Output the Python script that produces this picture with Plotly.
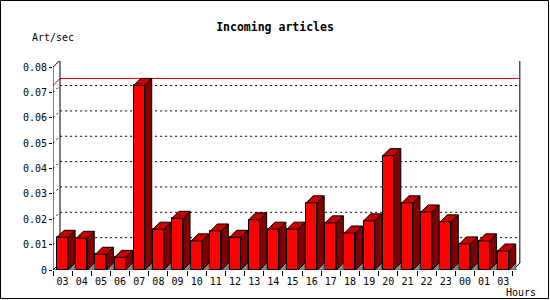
import plotly.graph_objects as go

# ---- data ----
hours = ["03", "04", "05", "06", "07", "08", "09", "10", "11", "12", "13", "14",
         "15", "16", "17", "18", "19", "20", "21", "22", "23", "00", "01", "03"]
rates = [0.0129, 0.0125, 0.0062, 0.0050, 0.0728, 0.0161, 0.0204, 0.0115,
         0.0154, 0.0129, 0.0198, 0.0161, 0.0161, 0.0265, 0.0186, 0.0146,
         0.0194, 0.0451, 0.0265, 0.0229, 0.0190, 0.0103, 0.0115, 0.0075]
y_ticks = [0, 0.01, 0.02, 0.03, 0.04, 0.05, 0.06, 0.07, 0.08]
y_tick_text = ["0", "0.01", "0.02", "0.03", "0.04", "0.05", "0.06", "0.07", "0.08"]

# ---- geometry (pixels -> axis units) ----
WIDTH, HEIGHT = 550, 300
ML, MR, MT, MB = 53, 29, 61, 30
PW, PH = WIDTH - ML - MR, HEIGHT - MT - MB
PX = 19.16          # px per category
PY = 2535.0         # px per unit of y
DEPTH = 7           # 3-D depth in px
dx, dy = DEPTH / PX, DEPTH / PY
bw = 11 / PX        # bar front width
n = len(rates)
x_lo = -0.5
x_hi = n - 0.5
xr = [x_lo, x_lo + PW / PX]
yr = [0, PH / PY]
ytop = y_ticks[-1]

FRONT, TOP, SIDE, SHADOW = "#ff0000", "#c80000", "#800000", "#8c8c8c"
FONT = "DejaVu Sans Mono"

xs = list(range(n))

# polygons for top / side / shadow faces
top_x, top_y, side_x, side_y, sh_x, sh_y = [], [], [], [], [], []
for i, v in zip(xs, rates):
    l, r = i - bw / 2, i + bw / 2
    top_x += [l, l + dx, r + dx, r, l, None]
    top_y += [v, v + dy, v + dy, v, v, None]
    side_x += [r, r + dx, r + dx, r, r, None]
    side_y += [v, v + dy, dy, 0, v, None]
    sh_x += [r, r + dx, r + dx, r, None]
    sh_y += [0, dy, 0, 0, None]

fig = go.Figure()
fig.add_trace(go.Bar(x=xs, y=rates, width=bw, marker=dict(color=FRONT, line=dict(color="black", width=1)),
                     hoverinfo="skip"))
fig.add_trace(go.Scatter(x=sh_x, y=sh_y, mode="lines", fill="toself", fillcolor=SHADOW,
                         line=dict(color="#555555", width=1), hoverinfo="skip"))
fig.add_trace(go.Scatter(x=side_x, y=side_y, mode="lines", fill="toself", fillcolor=SIDE,
                         line=dict(color="black", width=1), hoverinfo="skip"))
fig.add_trace(go.Scatter(x=top_x, y=top_y, mode="lines", fill="toself", fillcolor=TOP,
                         line=dict(color="black", width=1), hoverinfo="skip"))
# dummy trace for overlay tick axis
fig.add_trace(go.Scatter(x=[0], y=[None], xaxis="x2", mode="markers", hoverinfo="skip"))

shapes = []
# dotted grid lines on the back wall
for v in y_ticks[1:-1]:
    shapes.append(dict(type="path", xref="x", yref="y", layer="below",
                       path=f"M {x_lo},{v} L {x_lo+dx},{v+dy} L {x_hi+dx},{v+dy}",
                       line=dict(color="black", width=1, dash="2px,3px")))
# max line
vmax = max(rates)
shapes.append(dict(type="path", xref="x", yref="y", layer="below",
                   path=f"M {x_lo},{vmax} L {x_lo+dx},{vmax+dy} L {x_hi+dx},{vmax+dy}",
                   line=dict(color="#e00000", width=1)))
# frame
shapes.append(dict(type="path", xref="x", yref="y", layer="below",
                   path=(f"M {x_lo},0 L {x_lo},{ytop} L {x_lo+dx},{ytop+dy} L {x_hi+dx},{ytop+dy} "
                         f"L {x_hi+dx},{dy} L {x_hi},0 Z"),
                   line=dict(color="black", width=1)))
shapes.append(dict(type="path", xref="x", yref="y", layer="below",
                   path=f"M {x_lo},0 L {x_lo+dx},{dy} L {x_lo+dx},{ytop+dy}",
                   line=dict(color="black", width=1)))
# outer border
def px2paper_x(p):
    return (p - ML) / PW
def px2paper_y(p):
    return (HEIGHT - MB - p) / PH
shapes.append(dict(type="rect", xref="paper", yref="paper",
                   x0=px2paper_x(0.5), x1=px2paper_x(548.5), y0=px2paper_y(298.5), y1=px2paper_y(0.5),
                   line=dict(color="black", width=1)))

fig.update_layout(
    width=WIDTH, height=HEIGHT,
    margin=dict(l=ML, r=MR, t=MT, b=MB),
    paper_bgcolor="white", plot_bgcolor="white",
    showlegend=False,
    bargap=0,
    title=dict(text="Incoming articles", x=0.5, xanchor="center", y=1 - 27 / HEIGHT, yanchor="middle",
               font=dict(family=FONT, size=11.5, color="black", weight="bold")),
    xaxis=dict(range=xr, tickvals=xs, ticktext=hours, ticks="outside", ticklen=2,
               tickcolor="rgba(0,0,0,0)", showgrid=False, zeroline=False, showline=False,
               tickfont=dict(family=FONT, size=10, color="black")),
    xaxis2=dict(range=xr, overlaying="x", anchor="y", side="bottom",
                tickvals=[i - 0.5 for i in range(n + 1)], ticks="outside", ticklen=5,
                tickcolor="black", tickwidth=1, showticklabels=False, showgrid=False,
                zeroline=False, showline=False),
    yaxis=dict(range=yr, tickvals=y_ticks, ticktext=y_tick_text, ticks="outside", ticklen=3,
               tickcolor="black", tickwidth=1, showgrid=False, zeroline=False, showline=False,
               tickfont=dict(family=FONT, size=10, color="black")),
    shapes=shapes,
    annotations=[
        dict(text="Art/sec", xref="paper", yref="paper", x=px2paper_x(30), y=px2paper_y(37.5),
             xanchor="left", yanchor="middle", showarrow=False,
             font=dict(family=FONT, size=10, color="black")),
        dict(text="Hours", xref="paper", yref="paper", x=px2paper_x(504), y=px2paper_y(292),
             xanchor="left", yanchor="middle", showarrow=False,
             font=dict(family=FONT, size=10, color="black")),
    ],
)

fig.write_html("out.html")
